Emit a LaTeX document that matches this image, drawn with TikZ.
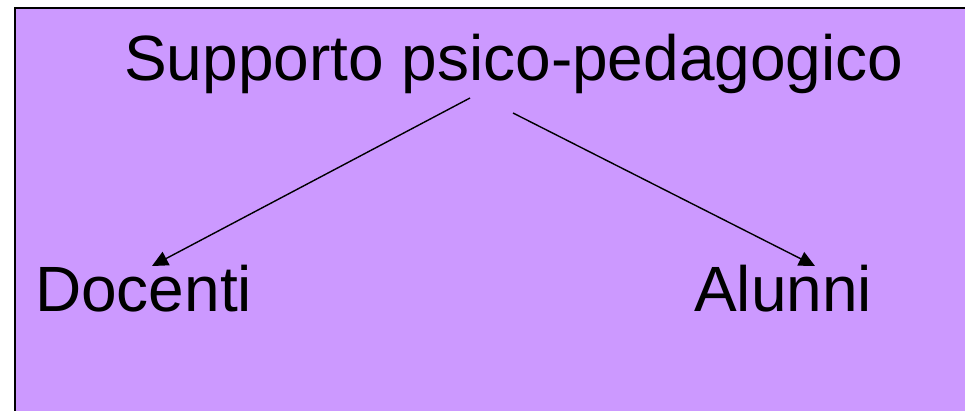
\documentclass[tikz,border=0pt]{standalone}
\usepackage{fontspec}
\setmainfont{Liberation Sans}
\usetikzlibrary{arrows.meta}
\definecolor{bgpurple}{RGB}{204,153,255}
\begin{document}
\begin{tikzpicture}[x=1pt,y=-1pt,
  lbl/.style={anchor=base west,inner sep=0pt,font=\fontsize{64}{72}\selectfont},
  conn/.style={line width=1.4pt,-{Triangle[length=16pt,width=15pt]}}]
\useasboundingbox (0,0) rectangle (965,411);
\path[fill=bgpurple,draw=black,line width=2pt] (15,8) rectangle (990,430);
\node[lbl] (top) at (124,81) {Supporto psico-pedagogico};
\node[lbl] (doc) at (35,311) {Docenti};
\node[lbl] (alu) at (694,311) {Alunni};
\coordinate (s1) at (470,98);
\coordinate (s2) at (513,113);
\coordinate (t1) at (152,266);
\coordinate (t2) at (815,266);
\draw[conn] (s1) -- (t1);
\draw[conn] (s2) -- (t2);
\end{tikzpicture}
\end{document}
